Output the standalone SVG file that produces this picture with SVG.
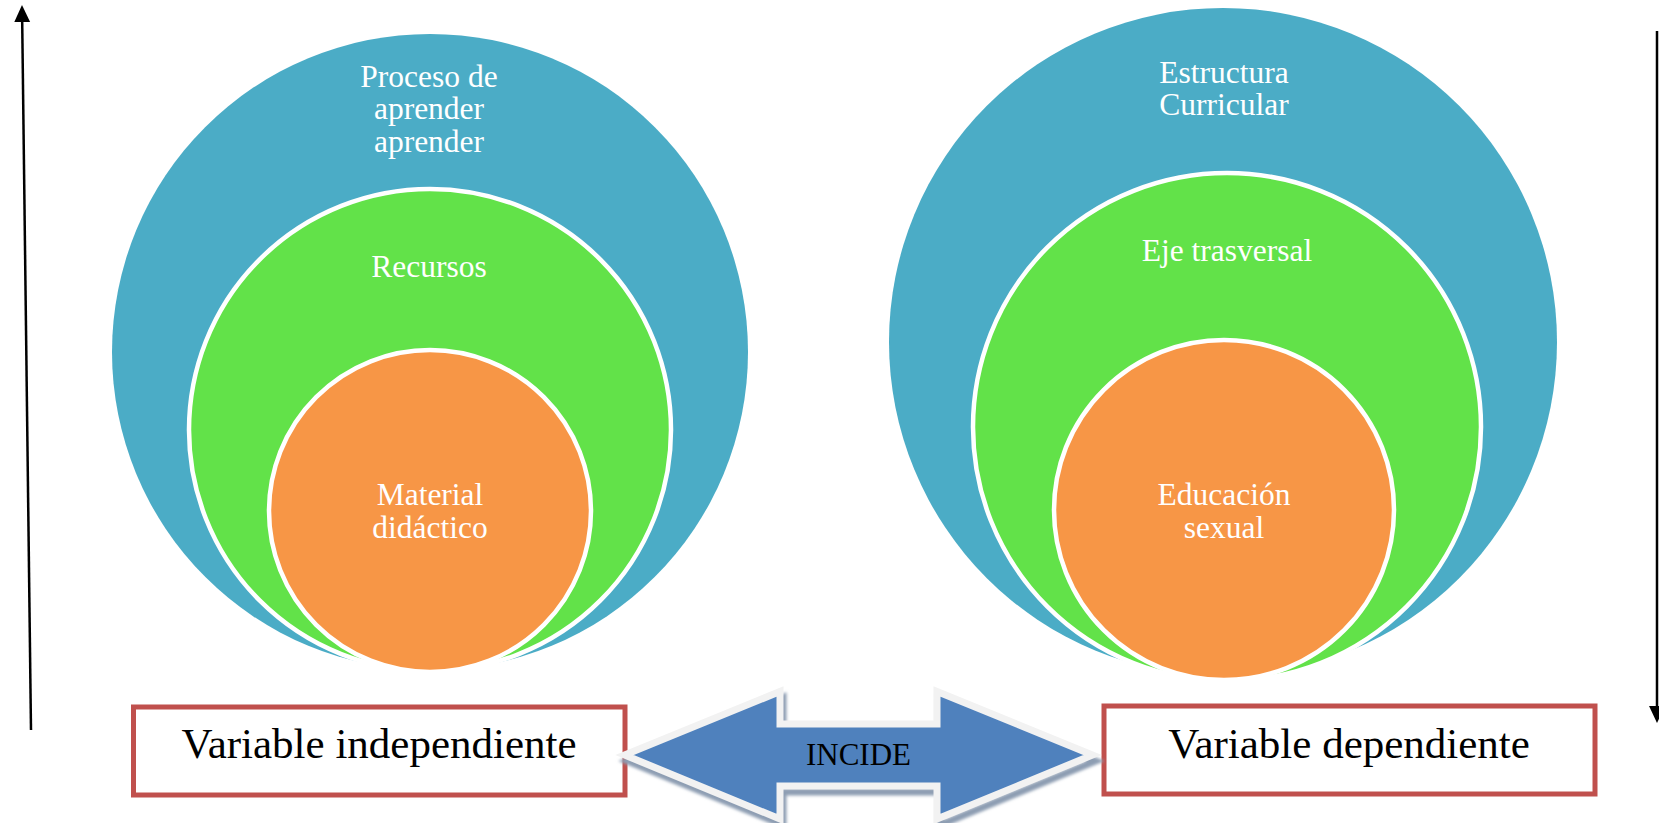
<svg xmlns="http://www.w3.org/2000/svg" width="1659" height="823" viewBox="0 0 1659 823">
  <style>
    .blue { fill: #4BACC6; }
    .green { fill: #62E249; stroke: #FFFFFF; stroke-width: 4.5; }
    .orange { fill: #F79646; stroke: #FFFFFF; stroke-width: 4.5; }
    .ctext { font-family: "Liberation Serif", "Times New Roman", serif; font-size: 31.5px; fill: #FFFFFF; text-anchor: middle; }
    .box { fill: #FFFFFF; stroke: #C0504D; stroke-width: 5; }
    .btext { font-family: "Liberation Serif", "Times New Roman", serif; font-size: 43px; fill: #000000; text-anchor: middle; }
    .axis { fill: none; stroke: #000000; stroke-width: 2.5; }
  </style>
  <defs>
    <marker id="head" markerUnits="userSpaceOnUse" markerWidth="18" markerHeight="18" viewBox="0 -8 17 16" refX="0" refY="0" orient="auto">
      <polygon points="0,-7.5 16,0 0,7.5" fill="#000000"/>
    </marker>
    <filter id="blur" x="-10%" y="-20%" width="120%" height="140%">
      <feGaussianBlur stdDeviation="1.5"/>
    </filter>
  </defs>

  <g id="left-target">
    <circle class="blue" cx="430" cy="352" r="318"/>
    <text class="ctext" x="429" y="87">Proceso de</text>
    <text class="ctext" x="429" y="119">aprender</text>
    <text class="ctext" x="429" y="152">aprender</text>
    <circle class="green" cx="430" cy="430" r="241"/>
    <text class="ctext" x="429" y="277">Recursos</text>
    <circle class="orange" cx="430" cy="511" r="161"/>
    <text class="ctext" x="430" y="505">Material</text>
    <text class="ctext" x="430" y="538">didáctico</text>
  </g>

  <g id="right-target">
    <circle class="blue" cx="1223" cy="342" r="334"/>
    <text class="ctext" x="1224" y="83">Estructura</text>
    <text class="ctext" x="1224" y="115">Curricular</text>
    <circle class="green" cx="1227" cy="427" r="254"/>
    <text class="ctext" x="1227" y="261">Eje trasversal</text>
    <circle class="orange" cx="1224" cy="510" r="170"/>
    <text class="ctext" x="1224" y="505">Educación</text>
    <text class="ctext" x="1224" y="538">sexual</text>
  </g>

  <g id="box-independiente">
    <rect class="box" x="133.5" y="707" width="491.5" height="88"/>
    <text class="btext" x="379" y="758">Variable independiente</text>
  </g>

  <g id="box-dependiente">
    <rect class="box" x="1104" y="706" width="491" height="88"/>
    <text class="btext" x="1349" y="758">Variable dependiente</text>
  </g>

  <g id="incide-arrow">
    <polygon points="624.6,755 780,691.5 780,724 937,724 937,691.5 1092.5,755 937,819 937,786 780,786 780,819" fill="none" stroke="#8D9DB2" stroke-width="7" stroke-linejoin="miter" transform="translate(3,6)" filter="url(#blur)"/>
    <polygon points="624.6,755 780,691.5 780,724 937,724 937,691.5 1092.5,755 937,819 937,786 780,786 780,819" fill="#4F81BD" stroke="#F2F2F2" stroke-width="7" stroke-linejoin="miter"/>
    <text x="858.5" y="765" font-family="Liberation Serif, Times New Roman, serif" font-size="31" fill="#000000" text-anchor="middle">INCIDE</text>
  </g>

  <g id="connectors">
    <path class="axis" d="M31,730 L22.2,22" marker-end="url(#head)"/>
    <path class="axis" d="M1657,31 L1657,706" marker-end="url(#head)"/>
  </g>
</svg>
